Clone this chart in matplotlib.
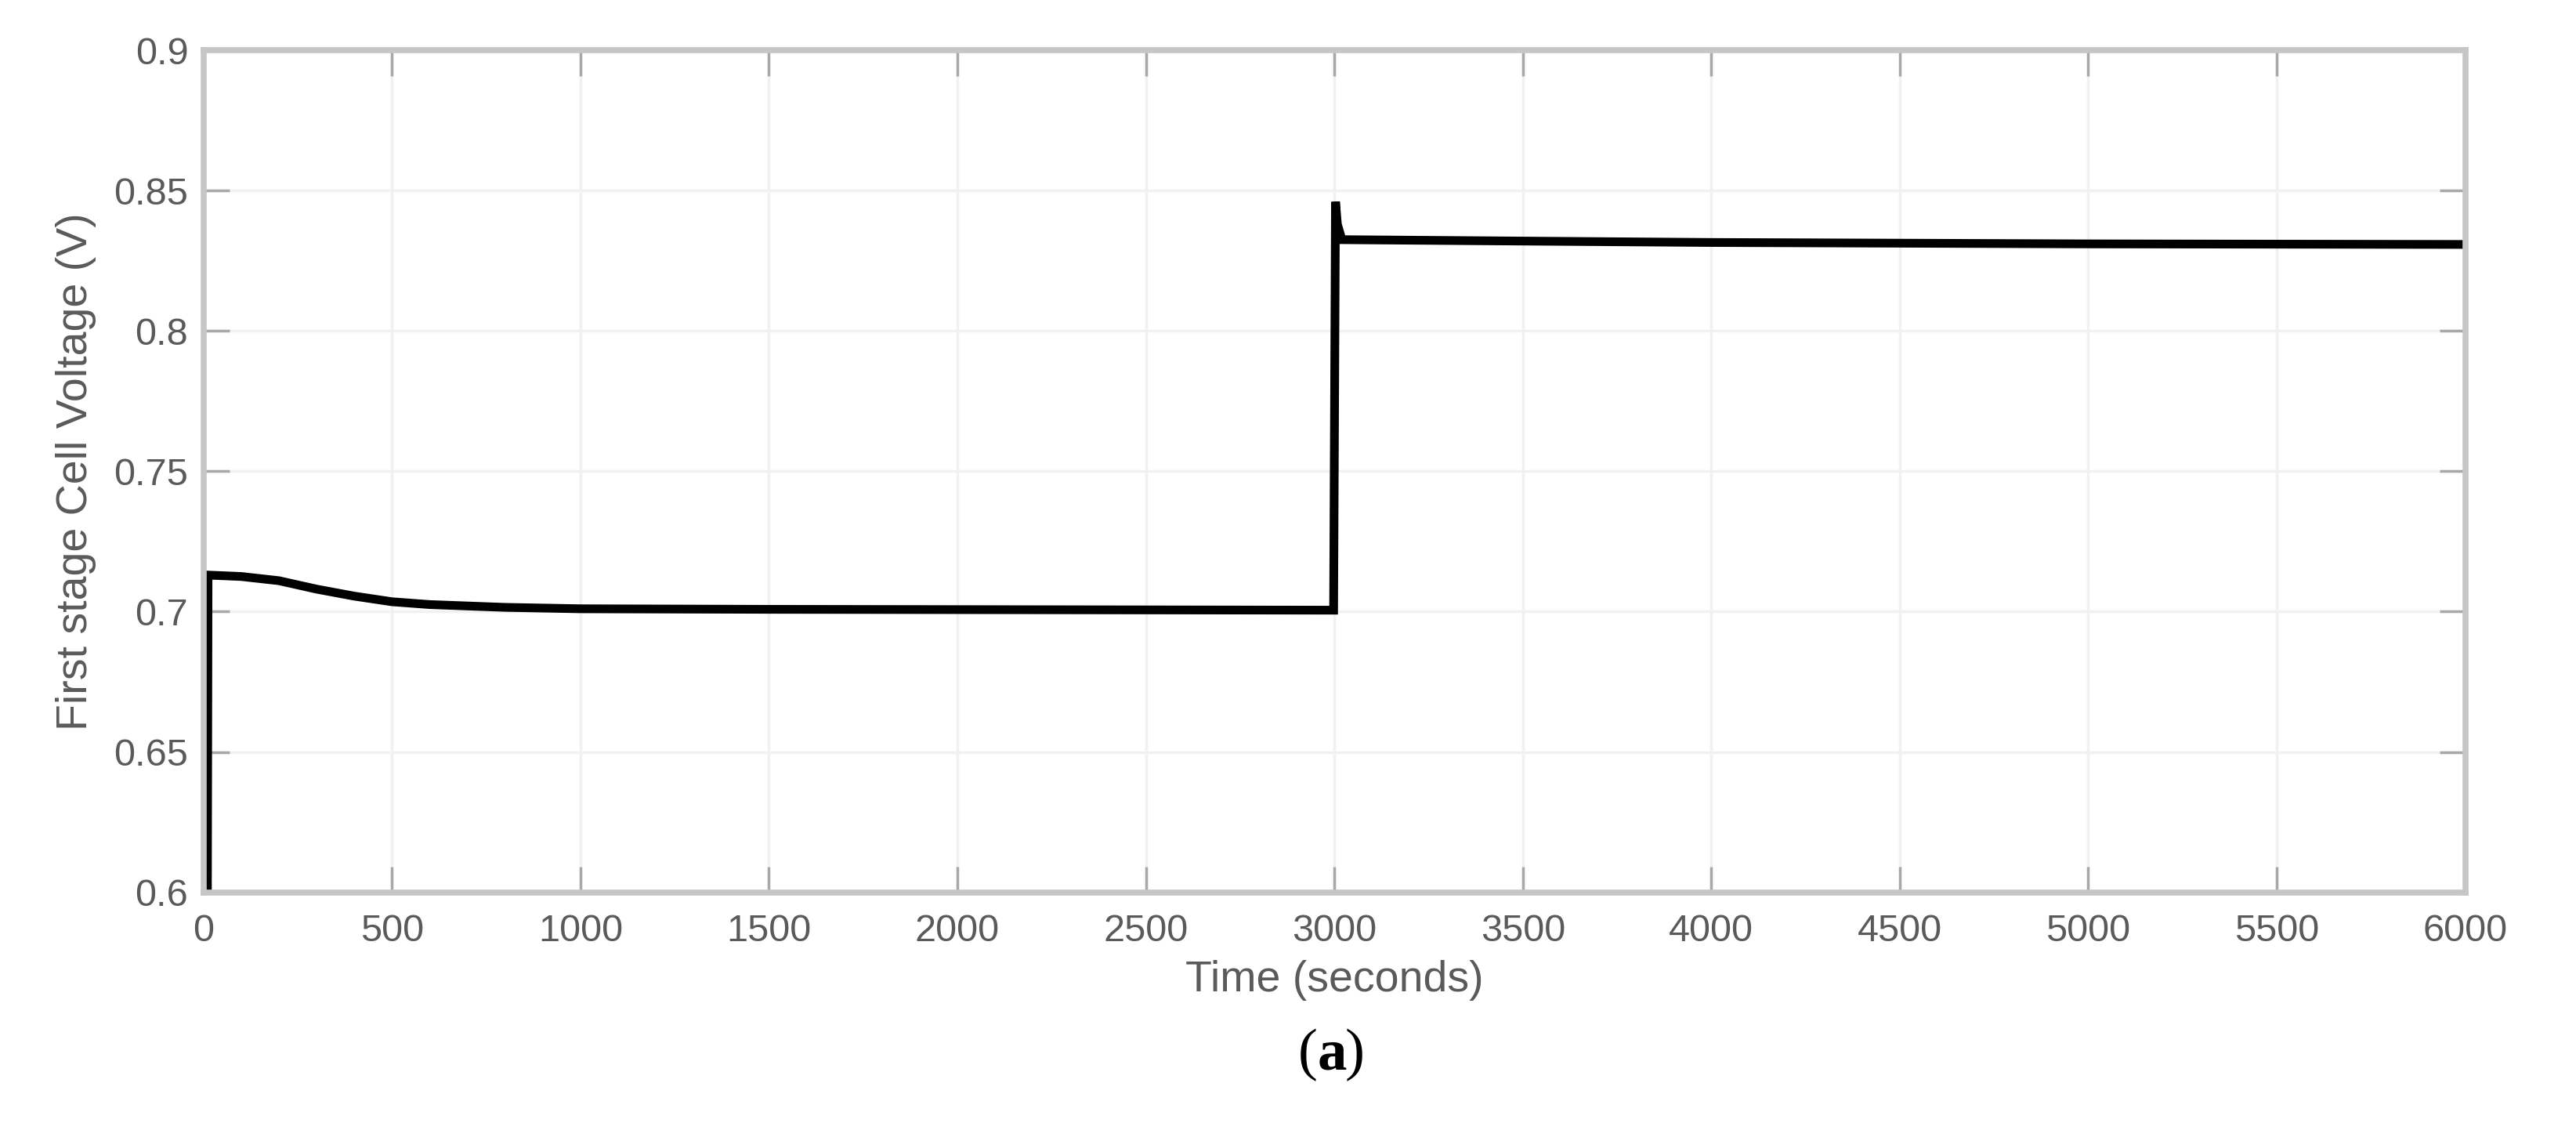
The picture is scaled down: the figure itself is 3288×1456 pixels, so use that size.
import numpy as np
import matplotlib.pyplot as plt

# data
time = [10, 12, 100, 200, 250, 300, 400, 500, 600, 800, 1000, 1500, 2000, 2500, 2998, 3003, 3008, 3020, 3500, 4000, 5000, 6000]
volt = [0.58, 0.713, 0.7125, 0.711, 0.7095, 0.708, 0.7055, 0.7035, 0.7025, 0.7015, 0.701, 0.7008, 0.7007, 0.7006, 0.7005,
        0.846, 0.838, 0.8325, 0.832, 0.8315, 0.831, 0.8308]
xticks = np.arange(0, 6001, 500)
yticks = [0.6, 0.65, 0.7, 0.75, 0.8, 0.85, 0.9]
ytick_labels = ['0.6', '0.65', '0.7', '0.75', '0.8', '0.85', '0.9']

plt.rcParams['font.family'] = ['Liberation Sans', 'DejaVu Sans']
txt = '#5a5a5a'
frame = '#c6c6c6'

fig = plt.figure(figsize=(32.88, 14.56), dpi=100)
ax = fig.add_axes([0.079, 0.218, 0.878, 0.738])

ax.plot(time, volt, color='black', lw=8, solid_joinstyle='miter')

ax.set_xlim(0, 6000)
ax.set_ylim(0.6, 0.9)
ax.set_xticks(xticks)
ax.set_yticks(yticks)
ax.set_yticklabels(ytick_labels)
ax.grid(True, color='#f1f1f1', lw=2.5)
ax.set_axisbelow(True)

for s in ax.spines.values():
    s.set_color(frame)
    s.set_linewidth(5.5)

ax.tick_params(direction='in', length=24, width=2.5, color='#a8a8a8',
               labelsize=35, labelcolor=txt, top=True, right=True, pad=20)
ax.tick_params(axis='y', pad=14)

ax.set_xlabel('Time (seconds)', fontsize=40, color=txt, labelpad=10)
ax.set_ylabel('First stage Cell Voltage (V)', fontsize=40, color=txt, labelpad=16)

fig.text(0.5115, 0.075, '(', fontsize=54, family='Liberation Serif', ha='right', va='center', color='black')
fig.text(0.5115, 0.075, 'a', fontsize=54, family='Liberation Serif', weight='bold', ha='left', va='center', color='black')
fig.text(0.5222, 0.075, ')', fontsize=54, family='Liberation Serif', ha='left', va='center', color='black')

fig.savefig('out.png', dpi=100, facecolor='white')
